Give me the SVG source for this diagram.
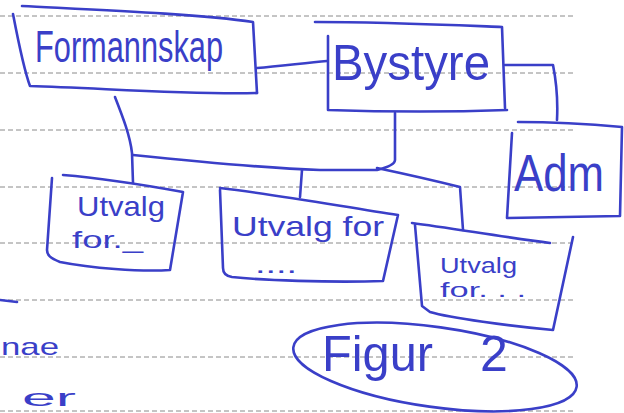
<svg xmlns="http://www.w3.org/2000/svg" width="624" height="413" viewBox="0 0 624 413">
<style>
.paper{stroke:#8a8a8a;stroke-width:1;stroke-dasharray:5 3}
.ink{fill:none;stroke:#3a3fc8;stroke-width:2.6;stroke-linecap:round;stroke-linejoin:round}
.t{fill:#3a3fc8;font-family:"Liberation Sans","DejaVu Sans",sans-serif}
</style>
<rect width="624" height="413" fill="#ffffff"/>
<g id="paper-lines">
<line class="paper" x1="0" y1="16" x2="573" y2="16"/>
<line class="paper" x1="0" y1="73" x2="573" y2="73"/>
<line class="paper" x1="0" y1="130" x2="573" y2="130"/>
<line class="paper" x1="0" y1="187" x2="573" y2="187"/>
<line class="paper" x1="0" y1="243" x2="573" y2="243"/>
<line class="paper" x1="0" y1="300" x2="573" y2="300"/>
<line class="paper" x1="0" y1="357" x2="573" y2="357"/>
<line class="paper" x1="0" y1="411" x2="573" y2="411"/>
</g>
<g id="connectors">
<path class="ink" d="M257,68 C280,66 305,63 327,61"/>
<path class="ink" d="M505,65 L553,65 C556,80 558,100 557,120"/>
<path class="ink" d="M115,97 C122,115 130,135 132,153 L133,183"/>
<path class="ink" d="M133,155 C200,162 260,168 320,170 L377,170 C385,168 395,165 395,160 L395,113"/>
<path class="ink" d="M377,168 C410,175 440,182 460,187 L463,230"/>
<path class="ink" d="M302,170 L300,197"/>
</g>
<g id="formannskap">
<path class="ink" d="M22,6 C100,10 200,14 253,22 L257,93"/>
<path class="ink" d="M13,14 C18,40 24,70 30,86 C100,88 190,95 257,93"/>
<text class="t" x="35" y="62" font-size="44" textLength="188" lengthAdjust="spacingAndGlyphs">Formannskap</text>
</g>
<g id="bystyre">
<path class="ink" d="M315,22 C380,22 450,25 502,27 L505,108"/>
<path class="ink" d="M328,36 L328,110 C390,112 450,112 507,110"/>
<text class="t" x="332" y="80" font-size="50" textLength="158" lengthAdjust="spacingAndGlyphs">Bystyre</text>
</g>
<g id="adm">
<path class="ink" d="M518,122 C560,122 600,125 622,127 L620,216 L507,218 L512,133"/>
<text class="t" x="514" y="191" font-size="52" textLength="90" lengthAdjust="spacingAndGlyphs">Adm</text>
</g>
<g id="utvalg1">
<path class="ink" d="M63,175 C100,178 150,186 183,192 L170,270 C140,272 90,268 60,262 C50,258 47,255 47,250 L52,178"/>
<text class="t" x="77" y="216" font-size="28" textLength="88" lengthAdjust="spacingAndGlyphs">Utvalg</text>
<text class="t" x="72" y="248" font-size="24" textLength="71" lengthAdjust="spacingAndGlyphs">for._</text>
</g>
<g id="utvalg2">
<path class="ink" d="M220,188 C280,195 350,208 398,215 L383,281 C330,283 260,280 232,277 C225,276 223,272 223,268 L220,190"/>
<text class="t" x="232" y="236" font-size="28" textLength="152" lengthAdjust="spacingAndGlyphs">Utvalg for</text>
<text class="t" x="255" y="273" font-size="24" textLength="42" lengthAdjust="spacingAndGlyphs">....</text>
</g>
<g id="utvalg3">
<path class="ink" d="M412,223 C450,228 510,238 550,243"/>
<path class="ink" d="M573,237 L553,330 C510,326 450,318 430,312 L422,306 L415,225"/>
<text class="t" x="440" y="273" font-size="22" textLength="77" lengthAdjust="spacingAndGlyphs">Utvalg</text>
<text class="t" x="440" y="297" font-size="20" textLength="86" lengthAdjust="spacingAndGlyphs">for. . .</text>
</g>
<g id="figur">
<ellipse class="ink" cx="435" cy="367" rx="143" ry="40" transform="rotate(8 435 367)"/>
<text class="t" font-size="50" y="371"><tspan x="322" textLength="111" lengthAdjust="spacingAndGlyphs">Figur</tspan><tspan x="480">2</tspan></text>
</g>
<g id="fragments">
<path class="ink" d="M0,300 L17,302"/>
<text class="t" x="1" y="355" font-size="24" textLength="58" lengthAdjust="spacingAndGlyphs">nae</text>
<text class="t" x="22" y="406" font-size="24" textLength="54" lengthAdjust="spacingAndGlyphs">er</text>
</g>
</svg>
